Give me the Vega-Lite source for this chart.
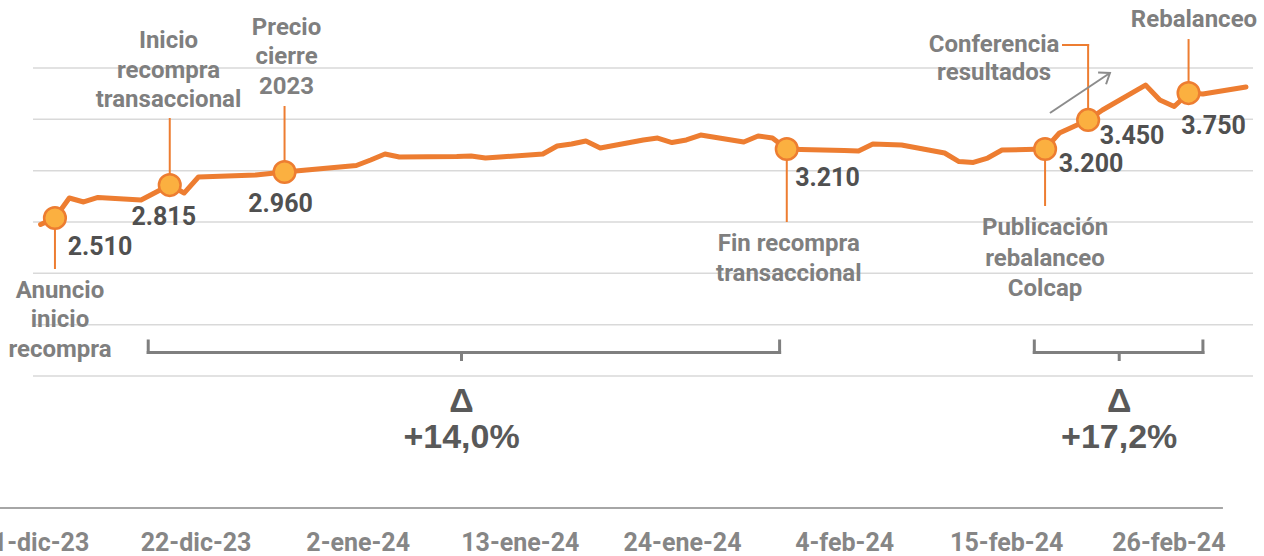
{
  "$schema": "https://vega.github.io/schema/vega-lite/v6.json",
  "width": 1220,
  "height": 508,
  "autosize": {"type": "none"},
  "padding": {"left": 33, "top": 0, "right": 11, "bottom": 48},
  "background": "white",
  "config": {
    "view": {"stroke": null},
    "text": {"font": "Roboto", "fontWeight": "bold"}
  },
  "datasets": {
    "prices": [
      {"d": "2023-12-11T00:00", "p": 2.476}, {"d": "2023-12-12T00:00", "p": 2.539},
      {"d": "2023-12-13T00:00", "p": 2.734}, {"d": "2023-12-14T00:00", "p": 2.695},
      {"d": "2023-12-15T00:00", "p": 2.739}, {"d": "2023-12-18T00:00", "p": 2.714},
      {"d": "2023-12-19T00:00", "p": 2.787}, {"d": "2023-12-20T00:00", "p": 2.860},
      {"d": "2023-12-21T00:00", "p": 2.782}, {"d": "2023-12-22T00:00", "p": 2.938},
      {"d": "2023-12-26T00:00", "p": 2.958}, {"d": "2023-12-27T00:00", "p": 2.972},
      {"d": "2023-12-28T00:00", "p": 2.987}, {"d": "2024-01-02T00:00", "p": 3.050},
      {"d": "2024-01-03T00:00", "p": 3.104}, {"d": "2024-01-04T00:00", "p": 3.162},
      {"d": "2024-01-05T00:00", "p": 3.133}, {"d": "2024-01-09T00:00", "p": 3.138},
      {"d": "2024-01-10T00:00", "p": 3.143}, {"d": "2024-01-11T00:00", "p": 3.123},
      {"d": "2024-01-12T00:00", "p": 3.133}, {"d": "2024-01-15T00:00", "p": 3.162},
      {"d": "2024-01-16T00:00", "p": 3.240}, {"d": "2024-01-17T00:00", "p": 3.260},
      {"d": "2024-01-18T00:00", "p": 3.289}, {"d": "2024-01-19T00:00", "p": 3.221},
      {"d": "2024-01-22T00:00", "p": 3.299}, {"d": "2024-01-23T00:00", "p": 3.318},
      {"d": "2024-01-24T00:00", "p": 3.274}, {"d": "2024-01-25T00:00", "p": 3.299},
      {"d": "2024-01-26T00:00", "p": 3.347}, {"d": "2024-01-29T00:00", "p": 3.279},
      {"d": "2024-01-30T00:00", "p": 3.338}, {"d": "2024-01-31T00:00", "p": 3.318},
      {"d": "2024-02-01T00:00", "p": 3.211}, {"d": "2024-02-02T00:00", "p": 3.206},
      {"d": "2024-02-05T00:00", "p": 3.196}, {"d": "2024-02-06T00:00", "p": 3.192},
      {"d": "2024-02-07T00:00", "p": 3.260}, {"d": "2024-02-08T00:00", "p": 3.255},
      {"d": "2024-02-09T00:00", "p": 3.250}, {"d": "2024-02-12T00:00", "p": 3.172},
      {"d": "2024-02-13T00:00", "p": 3.089}, {"d": "2024-02-14T00:00", "p": 3.080},
      {"d": "2024-02-15T00:00", "p": 3.123}, {"d": "2024-02-16T00:00", "p": 3.201},
      {"d": "2024-02-19T00:00", "p": 3.211}, {"d": "2024-02-20T00:00", "p": 3.367},
      {"d": "2024-02-21T00:00", "p": 3.430}, {"d": "2024-02-22T00:00", "p": 3.494},
      {"d": "2024-02-23T00:00", "p": 3.591}, {"d": "2024-02-26T00:00", "p": 3.834},
      {"d": "2024-02-27T00:00", "p": 3.688}, {"d": "2024-02-28T00:00", "p": 3.625},
      {"d": "2024-02-29T00:00", "p": 3.756}, {"d": "2024-03-01T00:00", "p": 3.747},
      {"d": "2024-03-04T00:00", "p": 3.815}
    ],
    "events": [
      {"id": 1, "d": "2023-12-12T00:00", "p": 2.539, "label": ["Anuncio", "inicio", "recompra"], "val": "2.510"},
      {"id": 2, "d": "2023-12-20T00:00", "p": 2.860, "label": ["Inicio", "recompra", "transaccional"], "val": "2.815"},
      {"id": 3, "d": "2023-12-28T00:00", "p": 2.987, "label": ["Precio", "cierre", "2023"], "val": "2.960"},
      {"id": 4, "d": "2024-02-01T00:00", "p": 3.211, "label": ["Fin recompra", "transaccional"], "val": "3.210"},
      {"id": 5, "d": "2024-02-19T00:00", "p": 3.211, "label": ["Publicación", "rebalanceo", "Colcap"], "val": "3.200"},
      {"id": 6, "d": "2024-02-22T00:00", "p": 3.494, "label": ["Conferencia", "resultados"], "val": "3.450"},
      {"id": 7, "d": "2024-02-29T00:00", "p": 3.756, "label": ["Rebalanceo"], "val": "3.750"}
    ],
    "brackets": [
      {"start": "2023-12-18T12:00", "end": "2024-01-31T12:00", "mid": "2024-01-09T08:00", "txt": ["Δ", "+14,0%"]},
      {"start": "2024-02-18T06:00", "end": "2024-03-01T00:00", "mid": "2024-02-24T04:00", "txt": ["Δ", "+17,2%"]}
    ]
  },
  "layer": [
    {
      "data": {"values": [{}]},
      "mark": {"type": "rule", "color": "#a6a6a6", "strokeWidth": 2},
      "encoding": {
        "x": {
          "datum": {"year": 2023, "month": 12, "date": 8, "hours": 17, "minutes": 37},
          "type": "temporal",
          "scale": {
            "domain": [
              {"year": 2023, "month": 12, "date": 10, "hours": 23, "minutes": 21},
              {"year": 2024, "month": 3, "date": 2, "hours": 17, "minutes": 46}
            ],
            "nice": false
          },
          "axis": {
            "values": [
              {"year": 2023, "month": 12, "date": 11}, {"year": 2023, "month": 12, "date": 22},
              {"year": 2024, "month": 1, "date": 2}, {"year": 2024, "month": 1, "date": 13},
              {"year": 2024, "month": 1, "date": 24}, {"year": 2024, "month": 2, "date": 4},
              {"year": 2024, "month": 2, "date": 15}, {"year": 2024, "month": 2, "date": 26}
            ],
            "labelExpr": "date(datum.value) + '-' + ['ene','feb','mar','abr','may','jun','jul','ago','sep','oct','nov','dic'][month(datum.value)] + '-' + timeFormat(datum.value, '%y')",
            "domain": false,
            "ticks": false,
            "grid": false,
            "title": null,
            "labelFont": "Roboto",
            "labelFontWeight": "bold",
            "labelFontSize": 25,
            "labelColor": "#868686",
            "labelPadding": 22,
            "labelOverlap": false,
            "labelBound": false,
            "labelFlush": false
          }
        },
        "x2": {"datum": {"year": 2024, "month": 2, "date": 29, "hours": 16, "minutes": 48}},
        "y": {"datum": -0.2856, "type": "quantitative", "axis": null}
      }
    },
    {
      "data": {"values": [{"g": 1}, {"g": 1.5}, {"g": 2}, {"g": 2.5}, {"g": 3}, {"g": 3.5}, {"g": 4}]},
      "mark": {"type": "rule", "color": "#d9d9d9", "strokeWidth": 1.5},
      "encoding": {
        "y": {"field": "g", "type": "quantitative", "axis": null}
      }
    },
    {
      "data": {"name": "brackets", "format": {"parse": {"start": "date", "end": "date", "mid": "date"}}},
      "layer": [
        {
          "mark": {"type": "rule", "color": "#7f7f7f", "strokeWidth": 3, "strokeCap": "square"},
          "encoding": {
            "x": {
              "field": "start",
              "type": "temporal",
              "scale": {
                "domain": [
                  {"year": 2023, "month": 12, "date": 10, "hours": 11, "minutes": 17},
                  {"year": 2024, "month": 3, "date": 4, "hours": 11, "minutes": 46}
                ],
                "nice": false
              },
              "axis": null
            },
            "x2": {"field": "end"},
            "y": {"datum": 1.229, "type": "quantitative", "axis": null}
          }
        },
        {
          "mark": {"type": "rule", "color": "#7f7f7f", "strokeWidth": 3, "strokeCap": "square"},
          "encoding": {
            "x": {"field": "start", "type": "temporal", "axis": null},
            "y": {"datum": 1.229, "type": "quantitative", "axis": null},
            "y2": {"datum": 1.341}
          }
        },
        {
          "mark": {"type": "rule", "color": "#7f7f7f", "strokeWidth": 3, "strokeCap": "square"},
          "encoding": {
            "x": {"field": "end", "type": "temporal", "axis": null},
            "y": {"datum": 1.229, "type": "quantitative", "axis": null},
            "y2": {"datum": 1.341}
          }
        },
        {
          "mark": {"type": "rule", "color": "#7f7f7f", "strokeWidth": 3},
          "encoding": {
            "x": {"field": "mid", "type": "temporal", "axis": null},
            "y": {"datum": 1.229, "type": "quantitative", "axis": null},
            "y2": {"datum": 1.146}
          }
        },
        {
          "mark": {"type": "text", "font": "Liberation Sans", "fontWeight": "bold", "fontSize": 34, "lineHeight": 36, "color": "#595959", "align": "center", "baseline": "middle"},
          "encoding": {
            "x": {"field": "mid", "type": "temporal", "axis": null},
            "y": {"datum": 0.747, "type": "quantitative", "axis": null},
            "text": {"field": "txt"}
          }
        }
      ]
    },
    {
      "encoding": {
        "x": {
          "field": "d",
          "type": "temporal",
          "scale": {
            "domain": [
              {"year": 2023, "month": 12, "date": 10, "hours": 11, "minutes": 17},
              {"year": 2024, "month": 3, "date": 4, "hours": 11, "minutes": 46}
            ],
            "nice": false
          },
          "axis": null
        },
        "y": {
          "field": "p",
          "type": "quantitative",
          "scale": {"domain": [-0.2856, 4.6623], "nice": false, "zero": false},
          "axis": null
        }
      },
      "layer": [
        {
          "data": {"name": "prices"},
          "mark": {"type": "line", "color": "#ED7D31", "strokeWidth": 5, "strokeCap": "round", "strokeJoin": "round"},
          "encoding": {}
        },
        {
          "data": {"name": "events"},
          "transform": [{"filter": "datum.id == 1"}],
          "layer": [
            {"mark": {"type": "rule", "color": "#ED7D31", "strokeWidth": 2}, "encoding": {"y2": {"datum": 2.042}}},
            {"mark": {"type": "text", "dx": 5, "dy": 73, "fontSize": 24, "lineHeight": 29.5, "color": "#7f7f7f", "align": "center", "baseline": "middle"}, "encoding": {"text": {"field": "label"}}},
            {"mark": {"type": "text", "dx": 45, "dy": 29, "fontSize": 25, "color": "#505050", "align": "center", "baseline": "middle"}, "encoding": {"text": {"field": "val"}}}
          ]
        },
        {
          "data": {"name": "events"},
          "transform": [{"filter": "datum.id == 2"}],
          "layer": [
            {"mark": {"type": "rule", "color": "#ED7D31", "strokeWidth": 2}, "encoding": {"y2": {"datum": 3.513}}},
            {"mark": {"type": "text", "dx": -1.25, "dy": -144, "fontSize": 24, "lineHeight": 29.5, "color": "#7f7f7f", "align": "center", "baseline": "middle"}, "encoding": {"text": {"field": "label"}}},
            {"mark": {"type": "text", "dx": -6, "dy": 32, "fontSize": 25, "color": "#505050", "align": "center", "baseline": "middle"}, "encoding": {"text": {"field": "val"}}}
          ]
        },
        {
          "data": {"name": "events"},
          "transform": [{"filter": "datum.id == 3"}],
          "layer": [
            {"mark": {"type": "rule", "color": "#ED7D31", "strokeWidth": 2}, "encoding": {"y2": {"datum": 3.630}}},
            {"mark": {"type": "text", "dx": 2, "dy": -144.5, "fontSize": 24, "lineHeight": 29.5, "color": "#7f7f7f", "align": "center", "baseline": "middle"}, "encoding": {"text": {"field": "label"}}},
            {"mark": {"type": "text", "dx": -4, "dy": 32, "fontSize": 25, "color": "#505050", "align": "center", "baseline": "middle"}, "encoding": {"text": {"field": "val"}}}
          ]
        },
        {
          "data": {"name": "events"},
          "transform": [{"filter": "datum.id == 4"}],
          "layer": [
            {"mark": {"type": "rule", "color": "#ED7D31", "strokeWidth": 2}, "encoding": {"y2": {"datum": 2.500}}},
            {"mark": {"type": "text", "dx": 2, "dy": 95, "fontSize": 24, "lineHeight": 29.5, "color": "#7f7f7f", "align": "center", "baseline": "middle"}, "encoding": {"text": {"field": "label"}}},
            {"mark": {"type": "text", "dx": 40.7, "dy": 28.5, "fontSize": 25, "color": "#505050", "align": "center", "baseline": "middle"}, "encoding": {"text": {"field": "val"}}}
          ]
        },
        {
          "data": {"name": "events"},
          "transform": [{"filter": "datum.id == 5"}],
          "layer": [
            {"mark": {"type": "rule", "color": "#ED7D31", "strokeWidth": 2}, "encoding": {"y2": {"datum": 2.656}}},
            {"mark": {"type": "text", "dx": 0, "dy": 79, "fontSize": 24, "lineHeight": 30.5, "color": "#7f7f7f", "align": "center", "baseline": "middle"}, "encoding": {"text": {"field": "label"}}},
            {"mark": {"type": "text", "dx": 46, "dy": 15, "fontSize": 25, "color": "#505050", "align": "center", "baseline": "middle"}, "encoding": {"text": {"field": "val"}}}
          ]
        },
        {
          "data": {"name": "events"},
          "transform": [{"filter": "datum.id == 6"}],
          "layer": [
            {"mark": {"type": "rule", "color": "#ED7D31", "strokeWidth": 2, "strokeCap": "square"}, "encoding": {"y2": {"datum": 4.224}}},
            {
              "mark": {"type": "rule", "color": "#ED7D31", "strokeWidth": 2, "strokeCap": "square"},
              "encoding": {
                "x": {"datum": {"year": 2024, "month": 2, "date": 20, "hours": 6}, "type": "temporal", "axis": null},
                "x2": {"field": "d"},
                "y": {"datum": 4.224, "type": "quantitative", "axis": null}
              }
            },
            {"mark": {"type": "text", "dx": -94, "dy": -75, "fontSize": 24, "lineHeight": 28.5, "color": "#7f7f7f", "align": "center", "baseline": "middle"}, "encoding": {"text": {"field": "label"}}},
            {"mark": {"type": "text", "dx": 44, "dy": 16, "fontSize": 25, "color": "#505050", "align": "center", "baseline": "middle"}, "encoding": {"text": {"field": "val"}}},
            {
              "mark": {"type": "rule", "color": "#8c8c8c", "strokeWidth": 2},
              "encoding": {
                "x": {"datum": {"year": 2024, "month": 2, "date": 19, "hours": 8, "minutes": 10}, "type": "temporal", "axis": null},
                "x2": {"datum": {"year": 2024, "month": 2, "date": 23, "hours": 12, "minutes": 30}},
                "y": {"datum": 3.562, "type": "quantitative", "axis": null},
                "y2": {"datum": 3.951}
              }
            },
            {
              "mark": {"type": "point", "shape": "M -1 -0.75 L 0 0 L -1 0.75", "filled": false, "stroke": "#8c8c8c", "strokeWidth": 2, "size": 360, "angle": 326, "opacity": 1},
              "encoding": {
                "x": {"datum": {"year": 2024, "month": 2, "date": 23, "hours": 12, "minutes": 30}, "type": "temporal", "axis": null},
                "y": {"datum": 3.951, "type": "quantitative", "axis": null}
              }
            }
          ]
        },
        {
          "data": {"name": "events"},
          "transform": [{"filter": "datum.id == 7"}],
          "layer": [
            {"mark": {"type": "rule", "color": "#ED7D31", "strokeWidth": 2}, "encoding": {"y2": {"datum": 4.282}}},
            {"mark": {"type": "text", "dx": 5.4, "dy": -73.5, "fontSize": 24, "lineHeight": 29.5, "color": "#7f7f7f", "align": "center", "baseline": "middle"}, "encoding": {"text": {"field": "label"}}},
            {"mark": {"type": "text", "dx": 25, "dy": 32.5, "fontSize": 25, "color": "#505050", "align": "center", "baseline": "middle"}, "encoding": {"text": {"field": "val"}}}
          ]
        },
        {
          "data": {"name": "events"},
          "mark": {"type": "point", "filled": true, "fill": "#FBB040", "stroke": "#ED7D31", "strokeWidth": 2.5, "size": 470, "opacity": 1},
          "encoding": {}
        }
      ]
    }
  ],
  "resolve": {"scale": {"x": "independent"}}
}
